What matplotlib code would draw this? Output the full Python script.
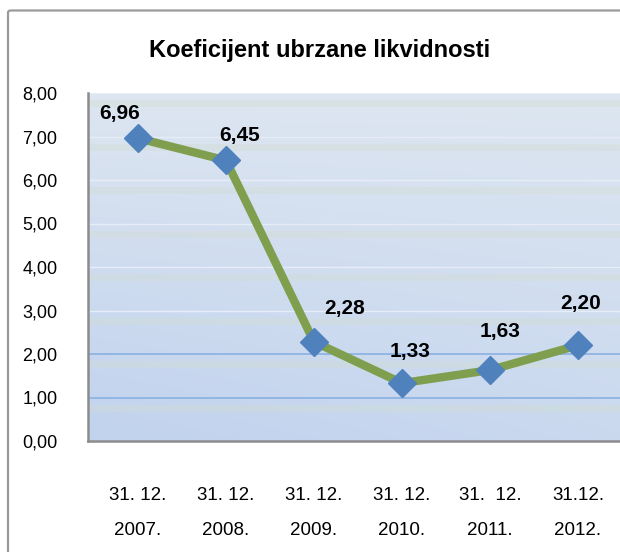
import numpy as np
import matplotlib
matplotlib.use("Agg")
import matplotlib.pyplot as plt
from matplotlib.patches import FancyBboxPatch

plt.rcParams['font.family'] = ['Liberation Sans Narrow', 'Liberation Sans', 'DejaVu Sans']

# podaci
kategorije = ["31. 12.\n2007.", "31. 12.\n2008.", "31. 12.\n2009.",
              "31. 12.\n2010.", "31.  12.\n2011.", "31.12.\n2012."]
vrijednosti = [6.96, 6.45, 2.28, 1.33, 1.63, 2.20]
oznake = ["6,96", "6,45", "2,28", "1,33", "1,63", "2,20"]
y_ticks = [0, 1, 2, 3, 4, 5, 6, 7, 8]

# pomaci oznaka (u tockama)
pomaci = [(-13, 18), (10, 18), (22, 24), (6, 23), (7, 28), (2, 30)]

fig = plt.figure(figsize=(6.2, 5.52), dpi=100)
fig.patch.set_facecolor("white")

# okvir grafikona
okvir = FancyBboxPatch((8 / 620, -0.1), 1.2, 1.1 - 10.5 / 552,
                       boxstyle="round,pad=0,rounding_size=0.004",
                       transform=fig.transFigure, fill=False,
                       edgecolor="#9a9a9a", linewidth=1.6, clip_on=False)
fig.patches.append(okvir)

ax = fig.add_axes([88 / 620, 1 - 441 / 552, 1 - 88 / 620, (441 - 93) / 552])

# pozadina s gradijentom
h, w = 200, 300
yy, xx = np.mgrid[0:1:h * 1j, 0:1:w * 1j]
top = np.array([221, 230, 241]) / 255
low = np.array([194, 211, 238]) / 255
t = np.clip(0.7 * yy + 0.35 * (1 - xx) * yy, 0, 1)[..., None]
img = top * (1 - t) + low * t
ax.imshow(img, extent=(0, 1, 0, 1), transform=ax.transAxes,
          aspect="auto", zorder=0, interpolation="bilinear")

ax.set_xlim(-50 / 88, (532 - 50) / 88)
ax.set_ylim(0, 8)

# mreza
for v in y_ticks[1:]:
    ax.axhline(v - 0.24, color="#d2ddcf", lw=5, alpha=0.35, zorder=1)
    if v in (1, 2):
        ax.axhline(v, color="#8eb4e3", lw=1.3, zorder=1)
    else:
        ax.axhline(v, color="#e6edf7", lw=1.0, zorder=1)

x = np.arange(len(vrijednosti))
ax.plot(x, vrijednosti, color="#7f9f4f", lw=6, zorder=3,
        solid_joinstyle="miter")
ax.plot(x, vrijednosti, ls="none", marker="D", markersize=14,
        color="#4f81bd", markeredgecolor="#4f81bd", zorder=4)

for xi, v, lab, p in zip(x, vrijednosti, oznake, pomaci):
    ax.annotate(lab, (xi, v), xytext=p, textcoords="offset points",
                ha="center", va="center", fontsize=15, fontweight="bold",
                zorder=5)

ax.set_yticks(y_ticks)
ax.set_yticklabels([f"{v:.2f}".replace(".", ",") for v in y_ticks], fontsize=13)
ax.set_xticks(x)
ax.set_xticklabels(kategorije, fontsize=13.5, linespacing=2.4)
ax.tick_params(axis="y", length=0, pad=22)
ax.tick_params(axis="x", length=0, pad=33)

for s in ("top", "right"):
    ax.spines[s].set_visible(False)
for s in ("left", "bottom"):
    ax.spines[s].set_color("#8c8c8c")
    ax.spines[s].set_linewidth(1.8)

fig.text(0.516, 1 - 50 / 552, "Koeficijent ubrzane likvidnosti",
         ha="center", va="center", fontsize=17, fontweight="bold")

fig.savefig("out.png", dpi=100)
